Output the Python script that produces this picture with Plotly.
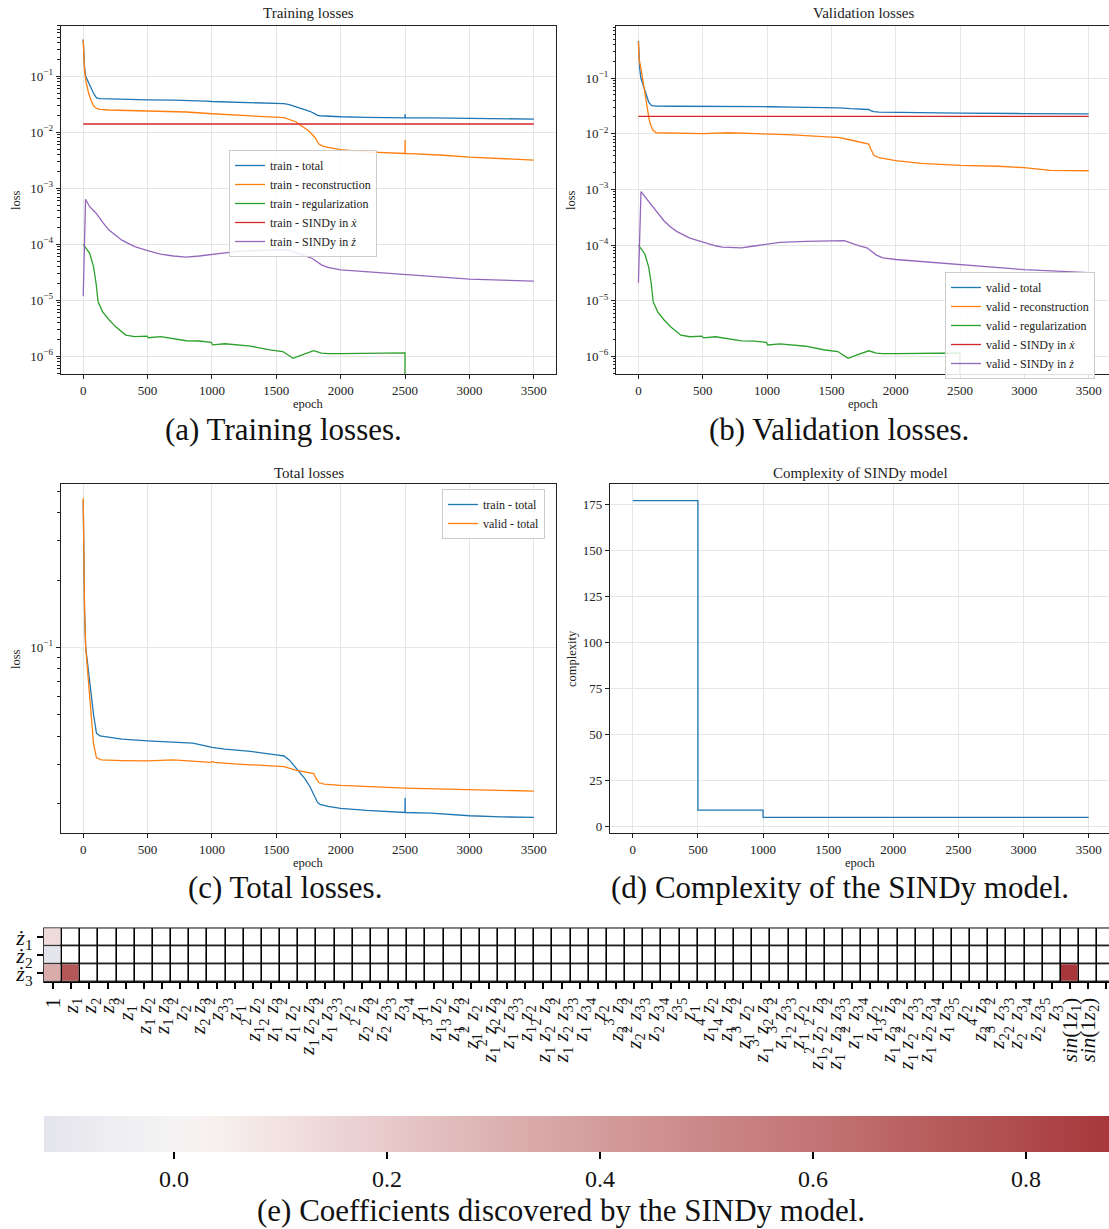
import plotly.graph_objects as go

# ---------------- data ----------------
# (a)/(c) train total
ep_train_total = [0, 4, 10, 19, 40, 61, 80, 103, 130, 200, 300, 500, 700, 850, 950, 1000, 1100, 1300, 1500, 1560,
                  1600, 1680, 1720, 1760, 1800, 1820, 1840, 1900, 2000, 2200, 2499, 2500, 2501, 2700, 3000, 3250, 3500]
train_total = [0.454, 0.245, 0.147, 0.100, 0.076, 0.062, 0.050, 0.0412, 0.0401, 0.0395, 0.0388, 0.0381, 0.0376, 0.0372,
               0.0362, 0.0356, 0.0350, 0.0342, 0.0330, 0.0326, 0.0313, 0.0277, 0.0259, 0.0238, 0.0214, 0.0202, 0.0198,
               0.0194, 0.0190, 0.0186, 0.0182, 0.0212, 0.0182, 0.0181, 0.0176, 0.0174, 0.0173]
# train reconstruction
ep_train_recon = [0, 4, 10, 20, 40, 61, 80, 100, 130, 200, 500, 800, 1000, 1200, 1500, 1560, 1650, 1700, 1750, 1800,
                  1830, 1860, 1900, 2000, 2200, 2499, 2500, 2501, 2800, 3000, 3500]
train_recon = [0.44, 0.22, 0.13, 0.085, 0.052, 0.037, 0.030, 0.027, 0.0258, 0.0251, 0.0240, 0.0231, 0.0215, 0.0204,
               0.0188, 0.0183, 0.0155, 0.0130, 0.0107, 0.0081, 0.0062, 0.0057, 0.0054, 0.0049, 0.0045, 0.0042, 0.0073,
               0.0042, 0.0039, 0.0036, 0.0032]
# regularization (identical for train and validation)
ep_reg = [0, 50, 80, 100, 115, 150, 200, 250, 330, 400, 495, 505, 600, 800, 900, 995, 1005, 1100, 1300, 1450, 1550,
          1630, 1700, 1790, 1850, 1900, 2000, 2499, 2500, 3500]
train_reg = [1.0e-4, 6.9e-5, 4.0e-5, 2.0e-5, 9.5e-6, 6.3e-6, 4.5e-6, 3.4e-6, 2.4e-6, 2.25e-6, 2.3e-6, 2.15e-6, 2.25e-6,
             1.9e-6, 1.88e-6, 1.78e-6, 1.6e-6, 1.68e-6, 1.52e-6, 1.3e-6, 1.22e-6, 9.2e-7, 1.06e-6, 1.26e-6, 1.14e-6,
             1.12e-6, 1.12e-6, 1.15e-6, 0.0, 0.0]
valid_reg = [1.0e-4, 6.9e-5, 4.0e-5, 2.0e-5, 9.5e-6, 6.3e-6, 4.5e-6, 3.4e-6, 2.4e-6, 2.25e-6, 2.3e-6, 2.15e-6, 2.25e-6,
             1.9e-6, 1.88e-6, 1.78e-6, 1.6e-6, 1.68e-6, 1.52e-6, 1.3e-6, 1.22e-6, 9.2e-7, 1.06e-6, 1.26e-6, 1.14e-6,
             1.12e-6, 1.12e-6, 1.15e-6, 0.0, 0.0]
# SINDy in x-dot (constant)
ep_sindy_x = [0, 3500]
train_sindy_x = [0.0141, 0.0141]
valid_sindy_x = [0.0205, 0.0205]
# train SINDy in z-dot
ep_train_sz = [0, 18, 50, 100, 150, 200, 300, 400, 500, 600, 700, 800, 900, 1000, 1100, 1200, 1400, 1550, 1600, 1700,
               1780, 1850, 1900, 2000, 2500, 3000, 3500]
train_sindy_z = [1.19e-5, 6.4e-4, 4.7e-4, 3.6e-4, 2.5e-4, 1.8e-4, 1.19e-4, 9.1e-5, 7.7e-5, 6.7e-5, 6.2e-5, 5.9e-5,
                 6.2e-5, 6.6e-5, 7.0e-5, 7.5e-5, 7.8e-5, 8.1e-5, 7.8e-5, 6.6e-5, 5.6e-5, 4.3e-5, 3.9e-5, 3.5e-5,
                 2.9e-5, 2.4e-5, 2.2e-5]
# valid total
ep_valid_total = [0, 4, 10, 19, 40, 61, 80, 103, 140, 300, 500, 700, 900, 990, 1000, 1020, 1200, 1400, 1560, 1650,
                  1750, 1790, 1810, 1830, 1870, 2000, 2500, 3000, 3500]
valid_total = [0.465, 0.25, 0.15, 0.100, 0.072, 0.049, 0.037, 0.0320, 0.0313, 0.0311, 0.0310, 0.0313, 0.0308, 0.0305,
               0.0308, 0.0305, 0.0300, 0.0296, 0.0292, 0.0282, 0.0276, 0.0272, 0.0258, 0.0248, 0.0244, 0.0241,
               0.0234, 0.0230, 0.0227]
# valid reconstruction
ep_valid_recon = [0, 5, 22, 40, 57, 70, 84, 100, 112, 139, 200, 500, 700, 1000, 1200, 1500, 1550, 1650, 1790, 1810,
                  1830, 1870, 2000, 2200, 2500, 2800, 3000, 3200, 3500]
valid_recon = [0.45, 0.22, 0.139, 0.075, 0.040, 0.026, 0.0176, 0.0135, 0.0116, 0.0104, 0.0103, 0.0100, 0.0104, 0.0099,
               0.0095, 0.0087, 0.0086, 0.0077, 0.0065, 0.0051, 0.0041, 0.0037, 0.00327, 0.00293, 0.0027, 0.0026,
               0.00245, 0.0022, 0.00216]
# valid SINDy in z-dot
ep_valid_sz = [0, 20, 50, 100, 150, 200, 250, 300, 400, 500, 600, 650, 800, 900, 1000, 1100, 1300, 1500, 1600, 1700,
               1780, 1850, 1900, 2000, 2500, 3000, 3500]
valid_sindy_z = [2.1e-5, 9.1e-4, 7.4e-4, 5.2e-4, 3.7e-4, 2.7e-4, 2.1e-4, 1.74e-4, 1.33e-4, 1.12e-4, 9.7e-5, 9.2e-5,
                 8.9e-5, 9.6e-5, 1.03e-4, 1.12e-4, 1.16e-4, 1.2e-4, 1.2e-4, 1.0e-4, 8.8e-5, 6.6e-5, 5.9e-5, 5.5e-5,
                 4.4e-5, 3.6e-5, 3.2e-5]
# (d) complexity
ep_complexity = [0, 500, 1000, 3500]
complexity = [177, 9, 5, 5]

# (e) SINDy library terms and coefficients
lib_terms = ["1", "z1", "z2", "z3", "z1^2", "z1 z2", "z1 z3", "z2^2", "z2 z3", "z3^2",
             "z1^3", "z1^2 z2", "z1^2 z3", "z1 z2^2", "z1 z2 z3", "z1 z3^2", "z2^3", "z2^2 z3", "z2 z3^2", "z3^3",
             "z1^4", "z1^3 z2", "z1^3 z3", "z1^2 z2^2", "z1^2 z2 z3", "z1^2 z3^2", "z1 z2^3", "z1 z2^2 z3",
             "z1 z2 z3^2", "z1 z3^3", "z2^4", "z2^3 z3", "z2^2 z3^2", "z2 z3^3", "z3^4",
             "z1^5", "z1^4 z2", "z1^4 z3", "z1^3 z2^2", "z1^3 z2 z3", "z1^3 z3^2", "z1^2 z2^3", "z1^2 z2^2 z3",
             "z1^2 z2 z3^2", "z1^2 z3^3", "z1 z2^4", "z1 z2^3 z3", "z1 z2^2 z3^2", "z1 z2 z3^3", "z1 z3^4",
             "z2^5", "z2^4 z3", "z2^3 z3^2", "z2^2 z3^3", "z2 z3^4", "z3^5",
             "sin(1 z1)", "sin(1 z2)", "sin(1 z3)"]
state_labels = ["ż1", "ż2", "ż3"]
coef_z1dot = [0.13, 0, 0, 0, 0, 0, 0, 0, 0, 0, 0, 0, 0, 0, 0, 0, 0, 0, 0, 0, 0, 0, 0, 0, 0, 0, 0, 0, 0, 0,
              0, 0, 0, 0, 0, 0, 0, 0, 0, 0, 0, 0, 0, 0, 0, 0, 0, 0, 0, 0, 0, 0, 0, 0, 0, 0, 0, 0, 0]
coef_z2dot = [-0.122, 0, 0, 0, 0, 0, 0, 0, 0, 0, 0, 0, 0, 0, 0, 0, 0, 0, 0, 0, 0, 0, 0, 0, 0, 0, 0, 0, 0, 0,
              0, 0, 0, 0, 0, 0, 0, 0, 0, 0, 0, 0, 0, 0, 0, 0, 0, 0, 0, 0, 0, 0, 0, 0, 0, 0, 0, 0, 0]
coef_z3dot = [0.33, 0.74, 0, 0, 0, 0, 0, 0, 0, 0, 0, 0, 0, 0, 0, 0, 0, 0, 0, 0, 0, 0, 0, 0, 0, 0, 0, 0, 0, 0,
              0, 0, 0, 0, 0, 0, 0, 0, 0, 0, 0, 0, 0, 0, 0, 0, 0, 0, 0, 0, 0, 0, 0, 0, 0, 0, 0.878, 0, 0]
cbar_ticks = [0.0, 0.2, 0.4, 0.6, 0.8]

# ---------------- styling ----------------
W, H = 1109, 1229
FONT = "Liberation Serif"
C_BLUE, C_ORANGE, C_GREEN, C_RED, C_PURPLE = "#1f77b4", "#ff7f0e", "#2ca02c", "#d62728", "#9467bd"
LW = 1.3


def px(x):
    return x / W


def py(y):
    return 1 - y / H


def clip_log(vals):
    # non-positive values are clipped far below the axis, as in matplotlib
    return [v if v > 0 else 1e-12 for v in vals]


def term_html(t):
    if t.startswith("sin"):
        idx = t[-2]
        return "<i>sin</i>(1<i>z</i><sub>%s</sub>)" % idx
    parts = []
    for tok in t.split(" "):
        if "^" in tok:
            base, p = tok.split("^")
            parts.append("<i>z</i><sub>%s</sub><sup>%s</sup>" % (base[1], p))
        elif tok.startswith("z"):
            parts.append("<i>z</i><sub>%s</sub>" % tok[1])
        else:
            parts.append(tok)
    return " ".join(parts)


def state_html(s):
    return "<i>%s</i><sub>%s</sub>" % (s[0], s[1])


fig = go.Figure()


def add_line(x, y, color, name, xa, ya, legend, showlegend=True, shape="linear"):
    fig.add_trace(go.Scatter(x=x, y=y, mode="lines", name=name, xaxis=xa, yaxis=ya,
                             line=dict(color=color, width=LW, shape=shape),
                             legend=legend, showlegend=showlegend, hoverinfo="skip"))


# (a) training losses
add_line(ep_train_total, train_total, C_BLUE, "train - total", "x", "y", "legend")
add_line(ep_train_recon, train_recon, C_ORANGE, "train - reconstruction", "x", "y", "legend")
add_line(ep_reg, clip_log(train_reg), C_GREEN, "train - regularization", "x", "y", "legend")
add_line(ep_sindy_x, train_sindy_x, C_RED, "train - SINDy in <i>ẋ</i>", "x", "y", "legend")
add_line(ep_train_sz, train_sindy_z, C_PURPLE, "train - SINDy in <i>ż</i>", "x", "y", "legend")

# (b) validation losses
add_line(ep_valid_total, valid_total, C_BLUE, "valid - total", "x2", "y2", "legend2")
add_line(ep_valid_recon, valid_recon, C_ORANGE, "valid - reconstruction", "x2", "y2", "legend2")
add_line(ep_reg, clip_log(valid_reg), C_GREEN, "valid - regularization", "x2", "y2", "legend2")
add_line(ep_sindy_x, valid_sindy_x, C_RED, "valid - SINDy in <i>ẋ</i>", "x2", "y2", "legend2")
add_line(ep_valid_sz, valid_sindy_z, C_PURPLE, "valid - SINDy in <i>ż</i>", "x2", "y2", "legend2")

# (c) total losses
add_line(ep_train_total, train_total, C_BLUE, "train - total", "x3", "y3", "legend3")
add_line(ep_valid_total, valid_total, C_ORANGE, "valid - total", "x3", "y3", "legend3")

# (d) complexity
add_line(ep_complexity, complexity, C_BLUE, "complexity", "x4", "y4", "legend", showlegend=False, shape="hv")

# (e) heatmap
coef = [coef_z1dot, coef_z2dot, coef_z3dot]
xlabels = [term_html(t) for t in lib_terms]
ylabels = [state_html(s) for s in state_labels]
nx = len(lib_terms)
blank = [[0 for _ in row] for row in coef]
masked = [[(v if v != 0 else None) for v in row] for row in coef]
fig.add_trace(go.Heatmap(z=blank, x=list(range(nx)), y=[0, 1, 2], xaxis="x5", yaxis="y5",
                         colorscale=[[0, "white"], [1, "white"]], showscale=False, xgap=1.6, ygap=1.6,
                         hoverinfo="skip"))
vmin = min(min(r) for r in coef)
vmax = max(max(r) for r in coef)
cscale = [[0.0, "#e4e4ec"], [0.062, "#eeedf1"], [0.122, "#f5f3f3"], [0.152, "#f7f2f1"], [0.222, "#f2e2e1"],
          [0.322, "#e8cacb"], [0.422, "#ddb2b2"], [0.522, "#d49c9c"], [0.622, "#cb8787"], [0.722, "#c37575"],
          [0.822, "#b85f60"], [0.922, "#ae4a4c"], [1.0, "#a7373b"]]
fig.add_trace(go.Heatmap(z=masked, x=list(range(nx)), y=[0, 1, 2], xaxis="x5", yaxis="y5",
                         zmin=vmin, zmax=vmax, colorscale=cscale, xgap=1.6, ygap=1.6, hoverinfo="skip",
                         colorbar=dict(orientation="h", x=px(44), xanchor="left", y=py(1116), yanchor="top",
                                       len=(W - 44) / W, lenmode="fraction", thickness=36,
                                       thicknessmode="pixels",
                                       outlinewidth=0, xpad=0, ypad=0, ticks="outside", ticklen=7, tickwidth=1.5,
                                       tickcolor="black", tickvals=cbar_ticks,
                                       ticktext=["%.1f" % v for v in cbar_ticks],
                                       tickfont=dict(family=FONT, size=24, color="#111"))))

# ---------------- axes ----------------
tickfont = dict(family=FONT, size=13, color="#222")
GRID = "#e6e6e6"
common_x = dict(showline=True, linecolor="#222", linewidth=1.2, mirror=True, ticks="outside", ticklen=4,
                tickwidth=1, tickcolor="#222", showgrid=True, gridcolor=GRID, gridwidth=1, zeroline=False,
                tickfont=tickfont, tickvals=[0, 500, 1000, 1500, 2000, 2500, 3000, 3500], automargin=False)
common_ylog = dict(type="log", showline=True, linecolor="#222", linewidth=1.2, mirror=True, ticks="outside",
                   ticklen=4, tickwidth=1, tickcolor="#222", showgrid=True, gridcolor=GRID, gridwidth=1,
                   zeroline=False, tickfont=tickfont, automargin=False,
                   minor=dict(ticks="outside", ticklen=2.2, tickwidth=0.8, tickcolor="#222", showgrid=False,
                              dtick="D1"))
dec_vals = [1e-6, 1e-5, 1e-4, 1e-3, 1e-2, 1e-1]
dec_text = ["10<sup>−6</sup>", "10<sup>−5</sup>", "10<sup>−4</sup>", "10<sup>−3</sup>", "10<sup>−2</sup>",
            "10<sup>−1</sup>"]

top_ab, bot_ab = 25.7, 374.0
top_cd, bot_cd = 484.3, 833.3

fig.update_layout(
    xaxis=dict(domain=[px(60.7), px(556.4)], range=[-175, 3675], anchor="y", **common_x),
    yaxis=dict(domain=[py(bot_ab), py(top_ab)], range=[-6.315, -0.095], anchor="x", tickvals=dec_vals,
               ticktext=dec_text, **common_ylog),
    xaxis2=dict(domain=[px(615.9), 1.0], range=[-175, 3658], anchor="y2", **common_x),
    yaxis2=dict(domain=[py(bot_ab), py(top_ab)], range=[-6.317, -0.06], anchor="x2", tickvals=dec_vals,
                ticktext=dec_text, **common_ylog),
    xaxis3=dict(domain=[px(60.7), px(556.4)], range=[-175, 3675], anchor="y3", **common_x),
    yaxis3=dict(domain=[py(bot_cd), py(top_cd)], range=[-1.833, -0.270], anchor="x3", tickvals=[0.1],
                ticktext=["10<sup>−1</sup>"], **common_ylog),
    xaxis4=dict(domain=[px(610), 1.0], range=[-175, 3656], anchor="y4", **common_x),
    yaxis4=dict(domain=[py(bot_cd), py(top_cd)], range=[-3.6, 185.85], anchor="x4", showline=True,
                linecolor="#222", linewidth=1.2, mirror=True, ticks="outside", ticklen=4, tickwidth=1,
                tickcolor="#222", showgrid=True, gridcolor=GRID, zeroline=False, tickfont=tickfont,
                tickvals=[0, 25, 50, 75, 100, 125, 150, 175], automargin=False),
    xaxis5=dict(domain=[px(44), 1.0], range=[-0.5, -0.5 + (W - 44) / 18.16], anchor="y5",
                tickvals=list(range(nx)), ticktext=xlabels, tickangle=-90, ticks="outside", ticklen=6,
                tickwidth=1.5, tickcolor="black", showgrid=False, zeroline=False, showline=False,
                automargin=False, tickfont=dict(family=FONT, size=21, color="#111")),
    yaxis5=dict(domain=[py(982.3), py(928.3)], range=[2.5, -0.5], anchor="x5", tickvals=[0, 1, 2],
                ticktext=ylabels, ticks="outside", ticklen=6, tickwidth=1.5, tickcolor="black",
                showgrid=False, zeroline=False, showline=False, automargin=False,
                tickfont=dict(family=FONT, size=22, color="#111")),
)

legend_style = dict(bgcolor="rgba(255,255,255,0.85)", bordercolor="#cccccc", borderwidth=1,
                    font=dict(family=FONT, size=12, color="#222"), xanchor="left", yanchor="top",
                    itemwidth=30, tracegroupgap=0)
fig.update_layout(
    legend=dict(x=px(229), y=py(150), **legend_style),
    legend2=dict(x=px(945), y=py(272), **legend_style),
    legend3=dict(x=px(442), y=py(489), **legend_style),
)

# black grid behind heatmap cells + frame
fig.add_shape(type="rect", xref="x5 domain", yref="y5 domain", x0=0, x1=1, y0=0, y1=1,
              fillcolor="black", line=dict(color="black", width=1.5), layer="below")

# ---------------- text ----------------
ann = []


def text(x, y, s, size, angle=0, color="#222"):
    ann.append(dict(x=px(x), y=py(y), xref="paper", yref="paper", text=s, showarrow=False,
                    xanchor="center", yanchor="middle", textangle=angle,
                    font=dict(family=FONT, size=size, color=color)))


text(308.5, 13, "Training losses", 15)
text(863, 13, "Validation losses", 15)
text(308.5, 473, "Total losses", 15)
text(860, 473, "Complexity of SINDy model", 15)
for (x, y) in [(308.5, 404), (863, 404), (308.5, 863), (860, 863)]:
    text(x, y, "epoch", 12.5)
text(16, 200, "loss", 12.5, angle=-90)
text(571, 200, "loss", 12.5, angle=-90)
text(16, 659, "loss", 12.5, angle=-90)
text(572, 659, "complexity", 12.5, angle=-90)
CAP = 31
text(283.5, 429, "(a) Training losses.", CAP, color="#111")
text(839, 429, "(b) Validation losses.", CAP, color="#111")
text(284.5, 888, "(c) Total losses.", CAP, color="#111")
text(839.5, 888, "(d) Complexity of the SINDy model.", CAP, color="#111")
text(561, 1210, "(e) Coefficients discovered by the SINDy model.", CAP, color="#111")

fig.update_layout(annotations=ann, width=W, height=H, autosize=False,
                  margin=dict(l=0, r=0, t=0, b=0, pad=0, autoexpand=False), plot_bgcolor="white",
                  paper_bgcolor="white", font=dict(family=FONT, color="#222"))

fig.write_html("out.html")
